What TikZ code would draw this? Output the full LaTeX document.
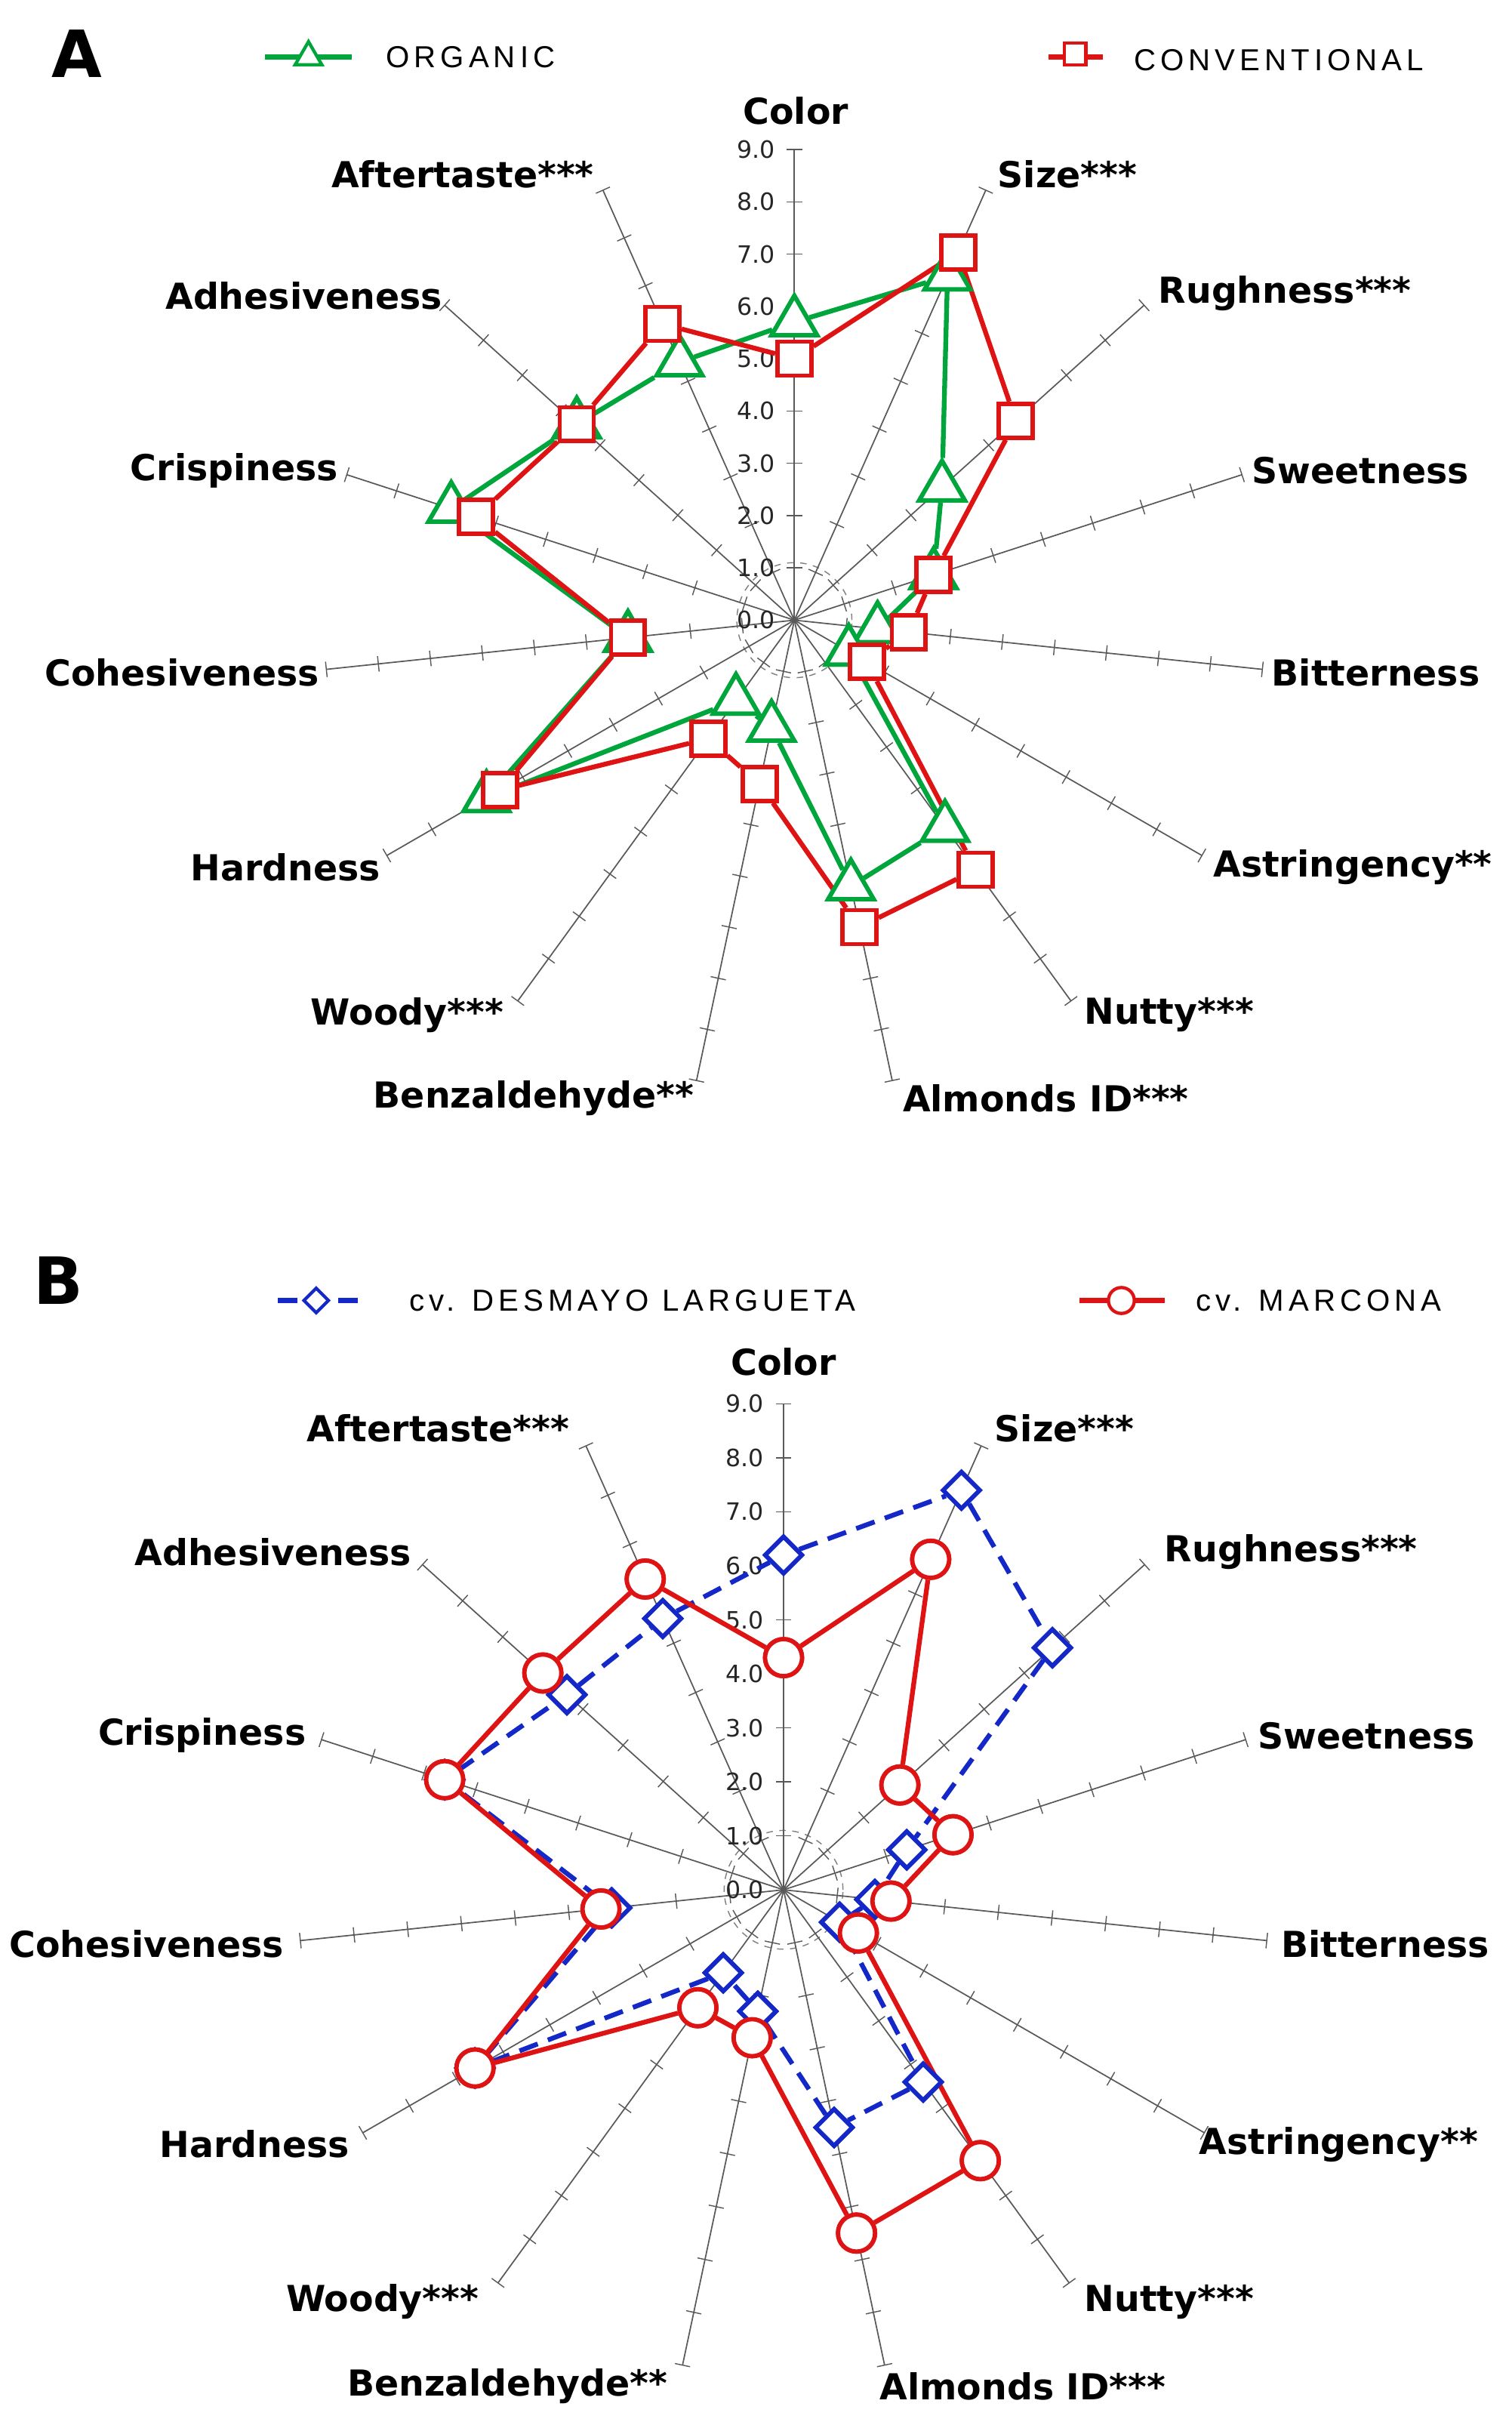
\documentclass[tikz,border=0pt]{standalone}
\usepackage{fontspec}
\setmainfont{DejaVu Sans}
\newfontfamily\legf{Liberation Sans}[LetterSpace=15]
\usetikzlibrary{shapes.geometric,calc}
\definecolor{cgreen}{RGB}{0,165,60}
\definecolor{cred}{RGB}{222,20,20}
\definecolor{cblue}{RGB}{20,40,200}
\tikzset{
 axis/.style={gray!70!black,line width=0.6pt},
 tick/.style={gray!70!black,line width=0.5pt},
 lab/.style={font=\bfseries\fontsize{16.5}{18}\selectfont,inner sep=0},
 num/.style={font=\fontsize{11}{12}\selectfont,text=gray!30!black,inner sep=0},
 leg/.style={font=\legf\fontsize{14}{16}\selectfont,anchor=west,inner sep=0},
 tri/.style={regular polygon,regular polygon sides=3,draw=cgreen,fill=white,line width=2pt,inner sep=0,minimum size=0.85cm},
 sq/.style={rectangle,draw=cred,fill=white,line width=2pt,inner sep=0,minimum size=0.55cm},
 dia/.style={diamond,draw=cblue,fill=white,line width=2pt,inner sep=0,minimum size=0.62cm},
 circ/.style={circle,draw=cred,fill=white,line width=2pt,inner sep=0,minimum size=0.6cm},
 gline/.style={cgreen,line width=2.2pt},
 rline/.style={cred,line width=2.2pt},
 bline/.style={cblue,line width=2.2pt,dash pattern=on 9pt off 5pt},
}
\newcommand\radargrid[1]{%
 \draw[gray,dashed,line width=0.5pt] (0,0) circle (1.1*#1);
 \foreach \i in {0,...,14}{%
  \pgfmathsetmacro\a{90-24*\i}
  \draw[axis] (0,0) -- (\a:9*#1);
  \foreach \k in {1,...,9}{\draw[tick] ($(\a:\k*#1)+(\a+90:5)$) -- ($(\a:\k*#1)+(\a-90:5)$);}
 }
 \foreach \k in {0,...,9}{\node[num] (n\k) at (-25,\k*#1) {\k.0};}
}
\newcommand\polyline[2]{\foreach \j [remember=\j as \p (initially 14)] in {0,...,14}{\draw[#1] (#2\p) -- (#2\j);}}
\begin{document}
\begin{tikzpicture}[x=0.025cm,y=0.025cm]
\useasboundingbox (0,0) rectangle (980,-1570);
% ---------- A ----------
\node[font=\bfseries\fontsize{30}{32}\selectfont] (A) at (50,-35) {A};
\coordinate (la1) at (172,-37); \coordinate (la2) at (228,-37);
\draw[gline] (la1) -- (la2); \node[tri,minimum size=0.5cm,line width=1.5pt] (lt) at (200,-37) {};
\node[leg] (lo) at (250,-37) {ORGANIC};
\coordinate (lb1) at (680,-37); \coordinate (lb2) at (715,-37);
\draw[rline] (lb1) -- (lb2); \node[sq,minimum size=0.35cm,line width=1.5pt] (ls) at (697,-35) {};
\node[leg] (lc) at (735,-39) {CONVENTIONAL};
\begin{scope}[shift={(515,-402)}]
\radargrid{33.9}
\foreach \v [count=\i from 0, evaluate=\i as \a using 90-24*\i] in {5.7,7.2,3.8,2.8,1.6,1.2,4.9,5.2,2.1,1.9,6.8,3.2,6.9,5.6,5.4}
  {\node[tri] (o\i) at (\a:\v*33.9) {};}
\polyline{gline}{o}
\foreach \v [count=\i from 0, evaluate=\i as \a using 90-24*\i] in {5.0,7.7,5.7,2.8,2.2,1.6,5.9,6.0,3.2,2.8,6.5,3.2,6.4,5.6,6.2}
  {\node[sq] (c\i) at (\a:\v*33.9) {};}
\polyline{rline}{c}
\foreach \i in {0,...,14}{\node[tri] at (o\i) {};}
\foreach \i in {0,...,14}{\node[sq] at (c\i) {};}
\end{scope}
\foreach \t/\x/\y [count=\n] in {Color/516/72,Size***/692/113,Rughness***/833/190,Sweetness/882/305,Bitterness/892/436,Astringency**/877/562,Nutty***/758/658,Almonds ID***/678/712,Benzaldehyde**/346/712,Woody***/264/658,Hardness/185/562,Cohesiveness/118/436,Crispiness/152/305,Adhesiveness/197/192,Aftertaste***/300/113}
  {\node[lab] (la\n) at (\x,-\y) {\t};}
% ---------- B ----------
\node[font=\bfseries\fontsize{30}{32}\selectfont] (B) at (38,-830) {B};
\coordinate (lc1) at (180,-843); \coordinate (lc2) at (235,-843);
\draw[bline] (lc1) -- (lc2); \node[dia,minimum size=0.42cm,line width=1.5pt] (ld) at (205,-843) {};
\node[leg] (ldl) at (265,-843) {cv. DESMAYO LARGUETA};
\coordinate (ld1) at (700,-843); \coordinate (ld2) at (755,-843);
\draw[rline] (ld1) -- (ld2); \node[circ,minimum size=0.42cm,line width=1.5pt] (lm) at (727,-843) {};
\node[leg] (lmt) at (775,-843) {cv. MARCONA};
\begin{scope}[shift={(508,-1225)}]
\radargrid{35}
\foreach \v [count=\i from 0, evaluate=\i as \a using 90-24*\i] in {6.2,8.1,6.7,2.4,1.7,1.2,4.4,4.5,2.3,1.9,6.6,3.2,6.6,5.4,5.5}
  {\node[dia] (d\i) at (\a:\v*35) {};}
\polyline{bline}{d}
\foreach \v [count=\i from 0, evaluate=\i as \a using 90-24*\i] in {4.3,6.7,2.9,3.3,2.0,1.6,6.2,6.5,2.8,2.7,6.6,3.4,6.6,6.0,6.3}
  {\node[circ] (m\i) at (\a:\v*35) {};}
\polyline{rline}{m}
\foreach \i in {0,...,14}{\node[dia] at (d\i) {};}
\foreach \i in {0,...,14}{\node[circ] at (m\i) {};}
\end{scope}
\foreach \t/\x/\y [count=\n] in {Color/508/883,Size***/690/926,Rughness***/837/1006,Sweetness/886/1125,Bitterness/898/1260,Astringency**/868/1390,Nutty***/758/1492,Almonds ID***/663/1547,Benzaldehyde**/329/1547,Woody***/248/1492,Hardness/165/1390,Cohesiveness/95/1260,Crispiness/131/1125,Adhesiveness/177/1006,Aftertaste***/284/926}
  {\node[lab] (lb\n) at (\x,-\y) {\t};}
\end{tikzpicture}
\end{document}
